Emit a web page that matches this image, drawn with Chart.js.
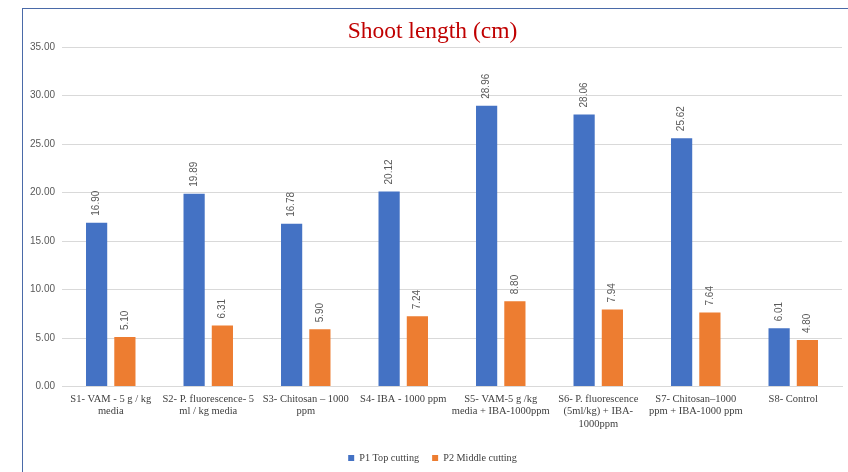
<!DOCTYPE html>
<html>
<head>
<meta charset="utf-8">
<script src="https://cdn.jsdelivr.net/npm/chart.js@4"></script>
<style>
  body { margin: 0; background: #fff; }
  #frame {
    position: absolute; left: 22px; top: 8px; width: 826px; height: 464px;
    border-left: 1px solid #4a6aa8; border-top: 1px solid #4a6aa8;
  }
</style>
</head>
<body>
<div id="frame"><canvas id="grafica" width="825" height="463"></canvas></div>
<script>
const categorias = [
  ["S1- VAM - 5 g / kg", "media"],
  ["S2- P. fluorescence- 5", "ml / kg media"],
  ["S3- Chitosan – 1000", "ppm"],
  ["S4- IBA - 1000 ppm"],
  ["S5- VAM-5 g /kg", "media + IBA-1000ppm"],
  ["S6- P. fluorescence", "(5ml/kg) + IBA-", "1000ppm"],
  ["S7- Chitosan–1000", "ppm + IBA-1000 ppm"],
  ["S8- Control"]
];
const topCutting = [16.90, 19.89, 16.78, 20.12, 28.96, 28.06, 25.62, 6.01];
const middleCutting = [5.10, 6.31, 5.90, 7.24, 8.80, 7.94, 7.64, 4.80];
const ticksY = [0, 5, 10, 15, 20, 25, 30, 35];

// etiquetas verticales encima de cada barra
const etiquetas = {
  id: 'etiquetas',
  afterDatasetsDraw(chart) {
    const ctx = chart.ctx;
    ctx.save();
    ctx.font = '10px "Liberation Sans", Arial, sans-serif';
    ctx.fillStyle = '#595959';
    ctx.textAlign = 'left';
    ctx.textBaseline = 'middle';
    chart.data.datasets.forEach((ds, i) => {
      chart.getDatasetMeta(i).data.forEach((bar, j) => {
        ctx.save();
        ctx.translate(bar.x, bar.y - 7);
        ctx.rotate(-Math.PI / 2);
        ctx.fillText(ds.data[j].toFixed(2), 0, 0);
        ctx.restore();
      });
    });
    ctx.restore();
  }
};

new Chart(document.getElementById("grafica"), {
  type: "bar",
  data: {
    labels: categorias,
    datasets: [
      { label: 'P1 Top cutting', data: topCutting, backgroundColor: '#4472C4',
        categoryPercentage: 0.58, barPercentage: 0.75 },
      { label: 'P2 Middle cutting', data: middleCutting, backgroundColor: '#ED7D31',
        categoryPercentage: 0.58, barPercentage: 0.75 }
    ]
  },
  options: {
    animation: false,
    responsive: false,
    layout: { padding: { right: 6, top: 6, bottom: -1 } },
    plugins: {
      title: {
        display: true,
        text: 'Shoot length (cm)',
        color: '#C00000',
        font: { family: '"Liberation Serif", "Times New Roman", serif', size: 23.5, weight: 'normal' },
        padding: { top: 3, bottom: 1 }
      },
      legend: {
        position: 'bottom',
        labels: {
          boxWidth: 6, boxHeight: 6, color: '#404040', padding: 13,
          font: { family: '"Liberation Serif", "Times New Roman", serif', size: 10.2 }
        }
      },
      tooltip: { enabled: false }
    },
    scales: {
      x: {
        afterFit(axis) { axis.height += 3; },
        grid: { display: false, drawTicks: false },
        border: { color: '#d9d9d9' },
        ticks: {
          color: '#404040', maxRotation: 0, autoSkip: false, padding: 7,
          font: { family: '"Liberation Serif", "Times New Roman", serif', size: 10.5, lineHeight: 1.15 }
        }
      },
      y: {
        min: 0, max: 35,
        afterFit(axis) { axis.width = 39; },
        afterBuildTicks(axis) { axis.ticks = ticksY.map(v => ({ value: v })); },
        grid: { color: '#d9d9d9', drawTicks: false },
        border: { display: false },
        ticks: {
          color: '#595959', padding: 7,
          font: { family: '"Liberation Sans", Arial, sans-serif', size: 10 },
          callback: v => v.toFixed(2)
        }
      }
    }
  },
  plugins: [etiquetas]
});
</script>
</body>
</html>
